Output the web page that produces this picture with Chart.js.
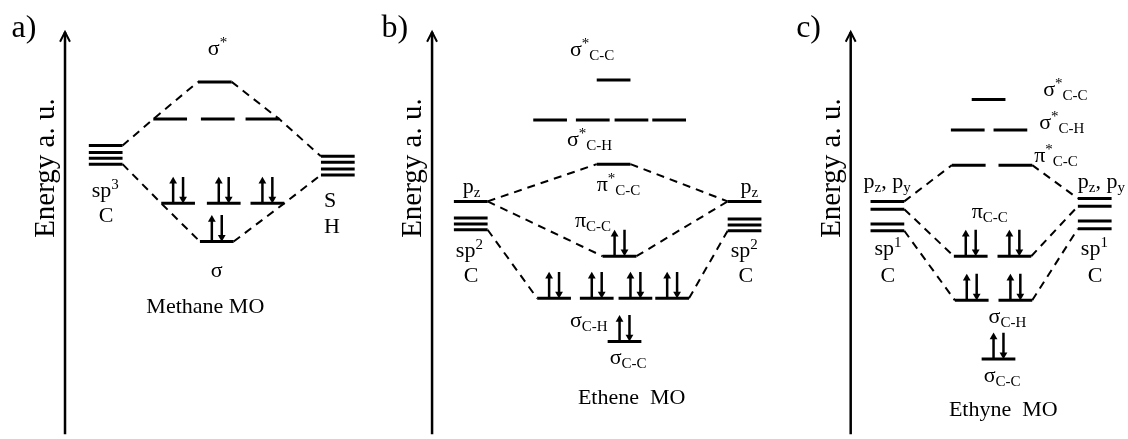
<!DOCTYPE html>
<html>
<head>
<meta charset="utf-8">
<title>Methane, Ethene and Ethyne MO diagrams</title>
<script src="https://cdn.jsdelivr.net/npm/chart.js@4/dist/chart.umd.min.js"></script>
<style>
  html, body { margin: 0; padding: 0; background: #fff; }
  canvas { display: block; }
</style>
</head>
<body>
<canvas id="mo" width="1128" height="439"></canvas>
<script>
// ===================== DATA (orbital energies, a.u.) =====================
// Methane
const methaneCarbonSp3        = [295, 288, 282, 276];
const methaneHydrogen1s       = [284, 278, 271, 265];
const methaneAntibonding      = [360, 322, 322, 322];
const methaneBonding          = [236, 236, 236, 197];
const methaneBondingElectrons = [2, 2, 2, 2];

// Ethene
const etheneCarbonLeft   = [238, 221, 215, 209];   // p_z, then three sp2
const etheneCarbonRight  = [238, 220, 214, 208];
const etheneSigmaStarCC  = [362];
const etheneSigmaStarCH  = [321, 321, 321, 321];
const ethenePiStar       = [276];
const ethenePi           = [182];
const etheneSigmaCH      = [139, 139, 139, 139];
const etheneSigmaCC      = [95];
const ethenePiElectrons      = [2];
const etheneSigmaCHElectrons = [2, 2, 2, 2];
const etheneSigmaCCElectrons = [2];

// Ethyne
const ethyneCarbonLeft   = [238, 230, 215, 208];   // p_z, p_y, then two sp
const ethyneCarbonRight  = [241, 233, 218, 210];
const ethyneSigmaStarCC  = [342];
const ethyneSigmaStarCH  = [311, 311];
const ethynePiStar       = [275, 275];
const ethynePi           = [182, 182];
const ethyneSigmaCH      = [137, 137];
const ethyneSigmaCC      = [77];
const ethynePiElectrons      = [2, 2];
const ethyneSigmaCHElectrons = [2, 2];
const ethyneSigmaCCElectrons = [2];

// ===================== LAYOUT =====================
const W = 1128, H = 439;
const LEVEL_W = 34;            // horizontal length of a level bar
const SPIN_LEN = 27;           // length of an electron arrow
const SPIN_UP_DX = 12, SPIN_DOWN_DX = 22;
const AXIS_TOP = 411;
const axisColumns = [61, 431, 853];

// left edge of every level bar, per orbital set
const methaneCols = {
  carbon: [85, 85, 85, 85],
  hydrogen: [319, 319, 319, 319],
  anti: [195, 150, 198, 243],
  bond: [158, 204, 248, 197]
};
const etheneCols = {
  cl: [453, 453, 453, 453],
  cr: [729, 729, 729, 729],
  sscc: [597],
  ssch: [533, 576, 615, 653],
  ps: [597],
  pi: [603],
  sch: [537, 580, 619, 656],
  scc: [608]
};
const ethyneCols = {
  cl: [873, 873, 873, 873],
  cr: [1082, 1082, 1082, 1082],
  sscc: [975],
  ssch: [954, 997],
  ps: [955, 1002],
  pi: [957, 1001],
  sch: [958, 1002],
  scc: [985]
};

const panels = [
  {
    sets: {
      carbon:   { e: methaneCarbonSp3,   x: methaneCols.carbon },
      hydrogen: { e: methaneHydrogen1s,  x: methaneCols.hydrogen },
      anti:     { e: methaneAntibonding, x: methaneCols.anti },
      bond:     { e: methaneBonding,     x: methaneCols.bond, occ: methaneBondingElectrons }
    },
    links: [
      [['carbon', 0, 'R'], ['anti', 1, 'L'], ['anti', 0, 'L']],
      [['anti', 0, 'R'], ['anti', 3, 'R'], ['hydrogen', 0, 'L']],
      [['carbon', 3, 'R'], ['bond', 0, 'L'], ['bond', 3, 'L']],
      [['bond', 3, 'R'], ['bond', 2, 'R'], ['hydrogen', 3, 'L']]
    ]
  },
  {
    sets: {
      cl:   { e: etheneCarbonLeft,  x: etheneCols.cl },
      cr:   { e: etheneCarbonRight, x: etheneCols.cr },
      sscc: { e: etheneSigmaStarCC, x: etheneCols.sscc },
      ssch: { e: etheneSigmaStarCH, x: etheneCols.ssch },
      ps:   { e: ethenePiStar,      x: etheneCols.ps },
      pi:   { e: ethenePi,          x: etheneCols.pi,  occ: ethenePiElectrons },
      sch:  { e: etheneSigmaCH,     x: etheneCols.sch, occ: etheneSigmaCHElectrons },
      scc:  { e: etheneSigmaCC,     x: etheneCols.scc, occ: etheneSigmaCCElectrons }
    },
    links: [
      [['cl', 0, 'R'], ['ps', 0, 'L']],
      [['cl', 0, 'R'], ['pi', 0, 'L']],
      [['ps', 0, 'R'], ['cr', 0, 'L']],
      [['pi', 0, 'R'], ['cr', 0, 'L']],
      [['cl', 3, 'R'], ['sch', 0, 'L']],
      [['sch', 3, 'R'], ['cr', 3, 'L']]
    ]
  },
  {
    sets: {
      cl:   { e: ethyneCarbonLeft,  x: ethyneCols.cl },
      cr:   { e: ethyneCarbonRight, x: ethyneCols.cr },
      sscc: { e: ethyneSigmaStarCC, x: ethyneCols.sscc },
      ssch: { e: ethyneSigmaStarCH, x: ethyneCols.ssch },
      ps:   { e: ethynePiStar,      x: ethyneCols.ps },
      pi:   { e: ethynePi,          x: ethyneCols.pi,  occ: ethynePiElectrons },
      sch:  { e: ethyneSigmaCH,     x: ethyneCols.sch, occ: ethyneSigmaCHElectrons },
      scc:  { e: ethyneSigmaCC,     x: ethyneCols.scc, occ: ethyneSigmaCCElectrons }
    },
    links: [
      [['cl', 0, 'R'], ['ps', 0, 'L']],
      [['cl', 1, 'R'], ['pi', 0, 'L']],
      [['cl', 3, 'R'], ['sch', 0, 'L']],
      [['ps', 1, 'R'], ['cr', 0, 'L']],
      [['pi', 1, 'R'], ['cr', 1, 'L']],
      [['sch', 1, 'R'], ['cr', 3, 'L']]
    ]
  }
];

// Text annotations: left x, baseline y (pixels from top), parts [text, role]
const labels = [
  // a) methane
  { x: 7, y: 33, size: 32, parts: [['a)']] },
  { x: 205, y: 52, parts: [['σ'], ['*', 'sup']] },
  { x: 88, y: 197, parts: [['sp'], ['3', 'sup']] },
  { x: 95, y: 222, parts: [['C']] },
  { x: 322, y: 207, parts: [['S']] },
  { x: 322, y: 233, parts: [['H']] },
  { x: 208, y: 278, parts: [['σ']] },
  { x: 143, y: 315, parts: [['Methane MO']] },
  // b) ethene
  { x: 380, y: 33, size: 32, parts: [['b)']] },
  { x: 570, y: 53, parts: [['σ'], ['*', 'sup'], ['C-C', 'sub']] },
  { x: 567, y: 144, parts: [['σ'], ['*', 'sup'], ['C-H', 'sub']] },
  { x: 597, y: 190, parts: [['π'], ['*', 'sup'], ['C-C', 'sub']] },
  { x: 462, y: 192, parts: [['p'], ['z', 'sub']] },
  { x: 742, y: 192, parts: [['p'], ['z', 'sub']] },
  { x: 455, y: 258, parts: [['sp'], ['2', 'sup']] },
  { x: 732, y: 258, parts: [['sp'], ['2', 'sup']] },
  { x: 463, y: 283, parts: [['C']] },
  { x: 740, y: 283, parts: [['C']] },
  { x: 575, y: 227, parts: [['π'], ['C-C', 'sub']] },
  { x: 570, y: 329, parts: [['σ'], ['C-H', 'sub']] },
  { x: 610, y: 367, parts: [['σ'], ['C-C', 'sub']] },
  { x: 578, y: 408, parts: [['Ethene  MO']] },
  // c) ethyne
  { x: 798, y: 33, size: 32, parts: [['c)']] },
  { x: 1047, y: 93, parts: [['σ'], ['*', 'sup'], ['C-C', 'sub']] },
  { x: 1043, y: 127, parts: [['σ'], ['*', 'sup'], ['C-H', 'sub']] },
  { x: 1038, y: 161, parts: [['π'], ['*', 'sup'], ['C-C', 'sub']] },
  { x: 866, y: 187, parts: [['p'], ['z', 'sub'], [', p'], ['y', 'sub']] },
  { x: 1082, y: 187, parts: [['p'], ['z', 'sub'], [', p'], ['y', 'sub']] },
  { x: 877, y: 256, parts: [['sp'], ['1', 'sup']] },
  { x: 1085, y: 256, parts: [['sp'], ['1', 'sup']] },
  { x: 883, y: 283, parts: [['C']] },
  { x: 1092, y: 283, parts: [['C']] },
  { x: 975, y: 218, parts: [['π'], ['C-C', 'sub']] },
  { x: 992, y: 325, parts: [['σ'], ['C-H', 'sub']] },
  { x: 987, y: 385, parts: [['σ'], ['C-C', 'sub']] },
  { x: 952, y: 420, parts: [['Ethyne  MO']] }
];
const axisTitle = 'Energy a. u.';

// ===================== BUILD DATASETS =====================
const INK = '#000';
const datasets = [];

function segment(points, extra) {
  datasets.push(Object.assign({
    data: points,
    showLine: true,
    borderColor: INK,
    backgroundColor: INK,
    borderWidth: 3,
    pointRadius: 0,
    tension: 0
  }, extra || {}));
}

function endOf(sets, ref) {
  const s = sets[ref[0]];
  const x0 = s.x[ref[1]];
  return { x: ref[2] === 'L' ? x0 : x0 + LEVEL_W, y: s.e[ref[1]] };
}

panels.forEach(p => {
  // connectors (dashed correlation lines)
  p.links.forEach(chain => {
    segment(chain.map(r => endOf(p.sets, r)), { borderWidth: 2, borderDash: [8, 6] });
  });
  // level bars and electrons
  Object.values(p.sets).forEach(s => {
    s.e.forEach((e, i) => {
      const x0 = s.x[i];
      segment([{ x: x0, y: e }, { x: x0 + LEVEL_W, y: e }]);
      const n = s.occ ? s.occ[i] : 0;
      const r = 4.5;
      if (n >= 1) {
        const xu = x0 + SPIN_UP_DX;
        segment([{ x: xu, y: e }, { x: xu, y: e + SPIN_LEN - r }],
          { borderWidth: 2.5, pointRadius: [0, r], pointStyle: 'triangle', rotation: 0, pointBorderWidth: 0 });
      }
      if (n >= 2) {
        const xd = x0 + SPIN_DOWN_DX;
        segment([{ x: xd, y: e + SPIN_LEN }, { x: xd, y: e + r }],
          { borderWidth: 2.5, pointRadius: [0, r], pointStyle: 'triangle', rotation: 180, pointBorderWidth: 0 });
      }
    });
  });
});

// energy axes with open arrow tips
axisColumns.forEach(ax => {
  segment([{ x: ax, y: 0 }, { x: ax, y: AXIS_TOP }], { borderWidth: 2.5 });
  segment([{ x: ax - 5, y: AXIS_TOP - 10 }, { x: ax, y: AXIS_TOP }, { x: ax + 5, y: AXIS_TOP - 10 }],
    { borderWidth: 2, borderJoinStyle: 'miter' });
});

// ===================== TEXT PLUGIN =====================
const SERIF = "'Liberation Serif', 'Times New Roman', serif";
const textPlugin = {
  id: 'moText',
  afterDatasetsDraw(chart) {
    const ctx = chart.ctx;
    const xs = chart.scales.x, ys = chart.scales.y;
    ctx.save();
    ctx.fillStyle = INK;
    ctx.textBaseline = 'alphabetic';
    ctx.textAlign = 'left';
    labels.forEach(l => {
      let x = xs.getPixelForValue(l.x);
      const base = ys.getPixelForValue(H - l.y);
      const main = l.size || 22;
      l.parts.forEach(([t, role]) => {
        let size = main, dy = 0;
        if (role === 'sup') { size = 15; dy = -8; }
        if (role === 'sub') { size = 15; dy = 4; }
        ctx.font = size + 'px ' + SERIF;
        ctx.fillText(t, x, base + dy);
        x += ctx.measureText(t).width;
      });
    });
    // rotated axis titles
    ctx.font = '29px ' + SERIF;
    ctx.textAlign = 'center';
    axisColumns.forEach(ax => {
      ctx.save();
      ctx.translate(xs.getPixelForValue(ax - 11), ys.getPixelForValue(H - 167));
      ctx.rotate(-Math.PI / 2);
      ctx.fillText(axisTitle, 0, 0);
      ctx.restore();
    });
    ctx.restore();
  }
};

new Chart(document.getElementById('mo'), {
  type: 'scatter',
  data: { datasets },
  options: {
    responsive: false,
    devicePixelRatio: 1,
    animation: false,
    events: [],
    layout: { padding: 0 },
    plugins: { legend: { display: false }, tooltip: { enabled: false } },
    scales: {
      x: { type: 'linear', min: 0, max: W, display: false },
      y: { type: 'linear', min: 0, max: H, display: false }
    }
  },
  plugins: [textPlugin]
});
</script>
</body>
</html>
